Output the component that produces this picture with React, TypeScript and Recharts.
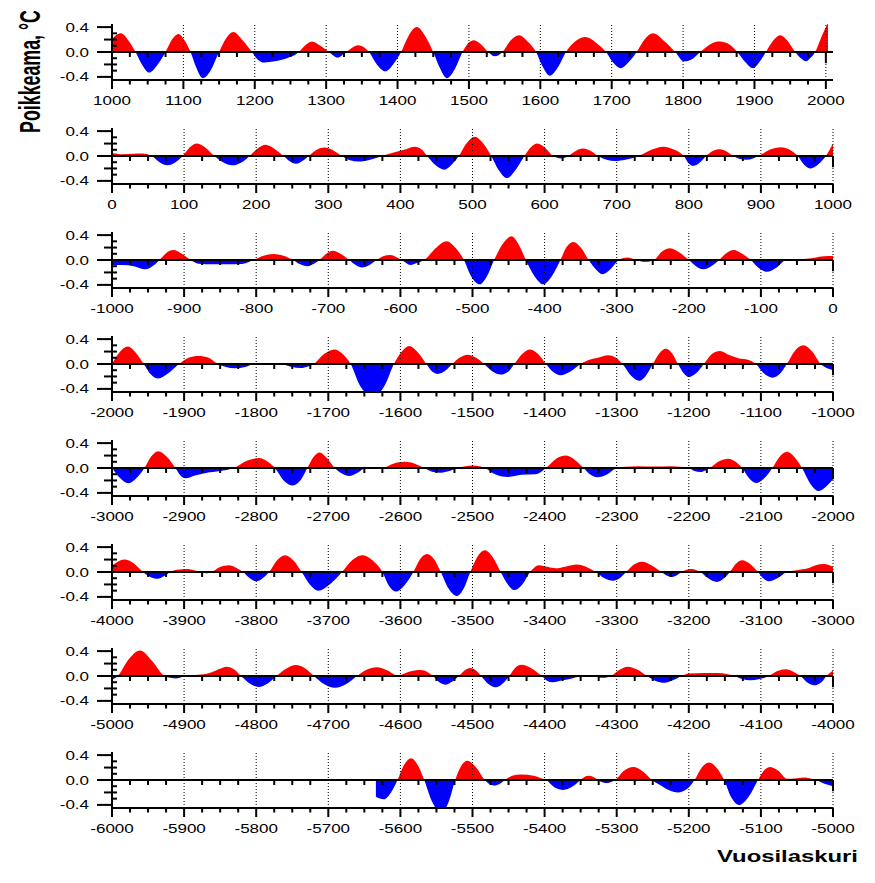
import React from "react";
import { AreaChart, Area, XAxis, YAxis, ReferenceLine } from "recharts";

type Pt = [number, number];

// anomaly (°C), [year, value], one list per 1000-year strip
const strip1000: Pt[] = [
  [1000, 0.21], [1012, 0.3], [1024, 0.17], [1033, 0], [1042, -0.2], [1052, -0.33], [1064, -0.2], [1075, 0],
  [1084, 0.2], [1093, 0.29], [1102, 0.18], [1110, 0], [1118, -0.25], [1127, -0.42], [1138, -0.3], [1150, 0],
  [1160, 0.22], [1170, 0.32], [1182, 0.2], [1196, 0], [1204, -0.12], [1213, -0.17], [1228, -0.15], [1245, -0.1],
  [1262, 0], [1270, 0.1], [1280, 0.17], [1292, 0.1], [1304, 0], [1316, -0.09], [1328, 0], [1345, 0.11],
  [1360, 0], [1371, -0.2], [1383, -0.31], [1395, -0.18], [1405, 0], [1415, 0.25], [1427, 0.4], [1439, 0.25],
  [1450, 0], [1459, -0.25], [1469, -0.42], [1480, -0.28], [1491, 0], [1498, 0.13], [1507, 0.19], [1517, 0.12],
  [1527, 0], [1536, -0.07], [1547, 0], [1558, 0.18], [1570, 0.27], [1583, 0.16], [1594, 0], [1603, -0.23],
  [1613, -0.38], [1625, -0.24], [1636, 0], [1650, 0.18], [1663, 0.24], [1678, 0.15], [1692, 0], [1702, -0.17],
  [1712, -0.26], [1724, -0.16], [1735, 0], [1746, 0.2], [1758, 0.3], [1773, 0.18], [1789, 0], [1801, -0.15],
  [1812, -0.12], [1824, 0], [1836, 0.11], [1850, 0.17], [1862, 0.14], [1876, 0], [1887, -0.16], [1898, -0.26],
  [1907, -0.16], [1916, 0], [1926, 0.18], [1936, 0.27], [1947, 0.17], [1957, 0], [1965, -0.1], [1972, -0.15],
  [1979, -0.09], [1985, 0], [1994, 0.25], [2003, 0.47],
];

const strip0: Pt[] = [
  [0, 0.05], [15, 0.03], [30, 0.035], [42, 0.04], [55, 0], [66, -0.1], [77, -0.15], [88, -0.1], [98, 0],
  [108, 0.14], [118, 0.2], [130, 0.13], [142, 0], [154, -0.1], [167, -0.15], [180, -0.1], [191, 0],
  [202, 0.12], [213, 0.18], [226, 0.11], [238, 0], [246, -0.08], [255, -0.125], [264, -0.08], [273, 0],
  [284, 0.1], [295, 0.135], [307, 0.09], [319, 0], [330, -0.07], [342, -0.09], [358, -0.06], [375, 0],
  [392, 0.06], [405, 0.1], [420, 0.15], [430, 0.1], [437, 0], [449, -0.15], [461, -0.22], [471, -0.14],
  [481, 0], [492, 0.21], [503, 0.31], [515, 0.2], [526, 0], [536, -0.22], [548, -0.355], [560, -0.22],
  [572, 0], [581, 0.14], [590, 0.2], [601, 0.13], [612, 0], [623, -0.04], [633, 0], [643, 0.08], [653, 0.12],
  [664, 0.08], [674, 0], [686, -0.06], [698, -0.08], [712, -0.06], [731, 0], [748, 0.1], [765, 0.15],
  [780, 0.1], [793, 0], [800, -0.12], [806, -0.16], [815, -0.11], [824, 0], [833, 0.08], [843, 0.11],
  [853, 0.07], [862, 0], [871, -0.05], [880, -0.06], [889, -0.04], [897, 0], [912, 0.1], [928, 0.14],
  [940, 0.1], [951, 0], [960, -0.14], [969, -0.2], [980, -0.13], [990, 0], [1000, 0.2],
];

const stripM1000: Pt[] = [
  [-1000, -0.08], [-985, -0.08], [-970, -0.1], [-954, -0.15], [-944, -0.1], [-934, 0], [-925, 0.11],
  [-915, 0.16], [-903, 0.1], [-891, 0], [-880, -0.06], [-860, -0.07], [-840, -0.07], [-820, -0.065],
  [-804, 0], [-790, 0.07], [-776, 0.095], [-762, 0.07], [-749, 0], [-739, -0.07], [-729, -0.1], [-720, -0.06],
  [-712, 0], [-703, 0.1], [-694, 0.15], [-683, 0.1], [-671, 0], [-662, -0.08], [-653, -0.12], [-643, -0.08],
  [-633, 0], [-624, 0.06], [-614, 0.08], [-606, 0.05], [-598, 0], [-586, -0.08], [-577, -0.05], [-567, 0],
  [-550, 0.2], [-536, 0.3], [-524, 0.2], [-512, 0], [-502, -0.26], [-490, -0.39], [-480, -0.26], [-470, 0],
  [-458, 0.26], [-446, 0.38], [-436, 0.25], [-426, 0], [-414, -0.26], [-402, -0.39], [-390, -0.26], [-378, 0],
  [-370, 0.2], [-360, 0.29], [-349, 0.19], [-339, 0], [-329, -0.15], [-320, -0.23], [-308, -0.14], [-297, 0],
  [-285, 0.04], [-273, 0], [-261, -0.03], [-248, 0], [-238, 0.13], [-226, 0.19], [-213, 0.12], [-200, 0],
  [-190, -0.1], [-180, -0.15], [-169, -0.1], [-158, 0], [-148, 0.11], [-138, 0.16], [-126, 0.1], [-114, 0],
  [-103, -0.13], [-92, -0.19], [-78, -0.12], [-65, 0], [-50, 0.01], [-30, 0.03], [-12, 0.06], [0, 0.065],
];

const stripM2000: Pt[] = [
  [-2000, 0], [-1990, 0.18], [-1978, 0.28], [-1967, 0.18], [-1956, 0], [-1946, -0.17], [-1936, -0.235],
  [-1922, -0.15], [-1907, 0], [-1894, 0.1], [-1880, 0.13], [-1866, 0.1], [-1853, 0], [-1842, -0.05],
  [-1830, -0.07], [-1815, -0.05], [-1803, 0], [-1785, 0.005], [-1765, 0], [-1752, -0.045], [-1738, -0.065],
  [-1728, -0.04], [-1720, 0], [-1706, 0.16], [-1692, 0.235], [-1680, 0.16], [-1669, 0], [-1656, -0.35],
  [-1638, -0.52], [-1622, -0.35], [-1609, 0], [-1598, 0.2], [-1588, 0.29], [-1576, 0.19], [-1564, 0],
  [-1556, -0.12], [-1548, -0.16], [-1538, -0.11], [-1528, 0], [-1518, 0.1], [-1507, 0.15], [-1495, 0.1],
  [-1484, 0], [-1472, -0.12], [-1461, -0.17], [-1450, -0.12], [-1442, 0], [-1431, 0.16], [-1421, 0.235],
  [-1409, 0.16], [-1398, 0], [-1388, -0.13], [-1378, -0.18], [-1364, -0.12], [-1350, 0], [-1340, 0.06],
  [-1326, 0.1], [-1312, 0.14], [-1301, 0.1], [-1292, 0], [-1280, -0.19], [-1269, -0.27], [-1259, -0.18],
  [-1250, 0], [-1241, 0.17], [-1232, 0.245], [-1223, 0.17], [-1215, 0], [-1207, -0.15], [-1200, -0.21],
  [-1190, -0.15], [-1179, 0], [-1168, 0.16], [-1157, 0.21], [-1143, 0.14], [-1130, 0.09], [-1118, 0.07],
  [-1107, 0], [-1096, -0.15], [-1084, -0.22], [-1073, -0.15], [-1064, 0], [-1053, 0.21], [-1041, 0.3],
  [-1029, 0.2], [-1017, 0], [-1008, -0.07], [-1000, -0.1],
];

const stripM3000: Pt[] = [
  [-3000, 0], [-2990, -0.15], [-2977, -0.245], [-2966, -0.16], [-2955, 0], [-2946, 0.18], [-2936, 0.27],
  [-2924, 0.18], [-2912, 0], [-2905, -0.12], [-2898, -0.165], [-2885, -0.12], [-2870, -0.08], [-2850, -0.05],
  [-2831, 0], [-2812, 0.12], [-2796, 0.16], [-2784, 0.1], [-2774, 0], [-2762, -0.2], [-2749, -0.28],
  [-2738, -0.19], [-2729, 0], [-2721, 0.17], [-2712, 0.25], [-2702, 0.16], [-2691, 0], [-2681, -0.09],
  [-2671, -0.13], [-2660, -0.08], [-2648, 0], [-2635, 0.01], [-2625, 0], [-2610, 0.07], [-2594, 0.1],
  [-2580, 0.07], [-2567, 0], [-2556, -0.06], [-2544, -0.075], [-2532, -0.05], [-2520, 0], [-2510, 0.03],
  [-2500, 0.04], [-2490, 0.03], [-2483, 0], [-2467, -0.11], [-2451, -0.145], [-2432, -0.11], [-2412, -0.1],
  [-2398, 0], [-2384, 0.15], [-2370, 0.2], [-2358, 0.13], [-2346, 0], [-2336, -0.11], [-2327, -0.15],
  [-2313, -0.1], [-2300, 0], [-2288, 0.02], [-2270, 0.03], [-2250, 0.025], [-2225, 0.03], [-2212, 0.02],
  [-2200, 0], [-2192, -0.05], [-2184, -0.065], [-2177, -0.04], [-2171, 0], [-2158, 0.11], [-2145, 0.15],
  [-2135, 0.1], [-2126, 0], [-2116, -0.17], [-2107, -0.24], [-2095, -0.16], [-2084, 0], [-2074, 0.18],
  [-2064, 0.26], [-2053, 0.17], [-2043, 0], [-2031, -0.26], [-2020, -0.37], [-2008, -0.28], [-2000, -0.18],
];

const stripM4000: Pt[] = [
  [-4000, 0.1], [-3983, 0.2], [-3970, 0.14], [-3957, 0], [-3947, -0.08], [-3937, -0.11], [-3928, -0.07],
  [-3919, 0], [-3907, 0.04], [-3896, 0.05], [-3886, 0.03], [-3876, 0], [-3869, -0.02], [-3862, 0],
  [-3850, 0.08], [-3838, 0.11], [-3828, 0.07], [-3818, 0], [-3809, -0.1], [-3800, -0.15], [-3791, -0.1],
  [-3782, 0], [-3771, 0.19], [-3760, 0.27], [-3748, 0.18], [-3737, 0], [-3725, -0.21], [-3714, -0.3],
  [-3698, -0.2], [-3681, 0], [-3667, 0.19], [-3652, 0.27], [-3638, 0.18], [-3625, 0], [-3616, -0.22],
  [-3606, -0.315], [-3594, -0.21], [-3582, 0], [-3573, 0.2], [-3563, 0.29], [-3553, 0.2], [-3544, 0],
  [-3533, -0.27], [-3522, -0.385], [-3512, -0.26], [-3503, 0], [-3493, 0.25], [-3483, 0.35], [-3472, 0.24],
  [-3461, 0], [-3451, -0.2], [-3442, -0.29], [-3431, -0.2], [-3420, 0], [-3408, 0.11], [-3395, 0.08],
  [-3385, 0.06], [-3370, 0.09], [-3355, 0.12], [-3342, 0.08], [-3329, 0], [-3317, -0.1], [-3305, -0.14],
  [-3296, -0.1], [-3287, 0], [-3276, 0.12], [-3265, 0.165], [-3252, 0.11], [-3238, 0], [-3230, -0.06],
  [-3223, -0.08], [-3216, -0.05], [-3210, 0], [-3196, 0.05], [-3184, 0], [-3172, -0.11], [-3161, -0.16],
  [-3152, -0.11], [-3143, 0], [-3135, 0.13], [-3126, 0.19], [-3115, 0.13], [-3104, 0], [-3096, -0.11],
  [-3089, -0.15], [-3077, -0.1], [-3064, 0], [-3050, 0.03], [-3035, 0.06], [-3024, 0.11], [-3013, 0.13],
  [-3005, 0.11], [-3000, 0.08],
];

const stripM5000: Pt[] = [
  [-5000, -0.06], [-4992, 0], [-4978, 0.25], [-4961, 0.41], [-4945, 0.25], [-4927, 0], [-4919, -0.03],
  [-4911, -0.04], [-4904, -0.02], [-4899, 0], [-4880, 0.02], [-4865, 0.05], [-4852, 0.11], [-4841, 0.15],
  [-4830, 0.1], [-4821, 0], [-4809, -0.12], [-4797, -0.175], [-4784, -0.12], [-4772, 0], [-4758, 0.12],
  [-4745, 0.175], [-4732, 0.12], [-4720, 0], [-4706, -0.13], [-4691, -0.19], [-4675, -0.13], [-4660, 0],
  [-4647, 0.1], [-4633, 0.14], [-4618, 0.09], [-4604, 0.01], [-4588, 0.07], [-4572, 0.095], [-4562, 0.06],
  [-4555, 0], [-4546, -0.1], [-4537, -0.14], [-4528, -0.09], [-4519, 0], [-4511, 0.09], [-4503, 0.13],
  [-4495, 0.09], [-4488, 0], [-4478, -0.13], [-4468, -0.18], [-4458, -0.12], [-4449, 0], [-4441, 0.13],
  [-4432, 0.18], [-4418, 0.12], [-4404, 0], [-4396, -0.08], [-4389, -0.1], [-4375, -0.07], [-4362, -0.04],
  [-4350, 0], [-4341, 0.01], [-4332, 0], [-4320, -0.03], [-4308, 0], [-4296, 0.1], [-4285, 0.15],
  [-4271, 0.1], [-4258, 0], [-4246, -0.08], [-4234, -0.11], [-4222, -0.07], [-4210, 0], [-4200, 0.04],
  [-4180, 0.05], [-4160, 0.05], [-4146, 0.03], [-4137, 0], [-4126, -0.05], [-4115, -0.07], [-4102, -0.05],
  [-4089, 0], [-4077, 0.08], [-4066, 0.11], [-4055, 0.07], [-4045, 0], [-4035, -0.11], [-4026, -0.15],
  [-4016, -0.1], [-4009, 0], [-4000, 0.09],
];

const stripM6000: Pt[] = [
  [-5634, -0.27], [-5623, -0.31], [-5613, -0.2], [-5604, 0], [-5595, 0.24], [-5585, 0.35], [-5576, 0.24],
  [-5567, 0], [-5556, -0.35], [-5544, -0.52], [-5533, -0.35], [-5524, 0], [-5516, 0.22], [-5507, 0.31],
  [-5495, 0.2], [-5483, 0], [-5476, -0.07], [-5470, -0.09], [-5462, -0.06], [-5455, 0], [-5445, 0.07],
  [-5433, 0.09], [-5415, 0.07], [-5405, 0.03], [-5398, 0], [-5386, -0.12], [-5374, -0.16], [-5362, -0.11],
  [-5350, 0], [-5345, 0.05], [-5339, 0.07], [-5332, 0.05], [-5326, 0], [-5319, -0.04], [-5313, -0.05],
  [-5307, -0.03], [-5302, 0], [-5290, 0.15], [-5277, 0.21], [-5264, 0.14], [-5251, 0], [-5240, -0.08],
  [-5228, -0.16], [-5215, -0.2], [-5203, -0.15], [-5192, 0], [-5182, 0.2], [-5172, 0.28], [-5161, 0.19],
  [-5151, 0], [-5141, -0.28], [-5130, -0.4], [-5117, -0.27], [-5104, 0], [-5096, 0.15], [-5087, 0.21],
  [-5075, 0.14], [-5064, 0.02], [-5050, 0.03], [-5040, 0.04], [-5030, 0.02], [-5024, 0], [-5012, -0.06],
  [-5000, -0.1],
];

const stripData = [strip1000, strip0, stripM1000, stripM2000, stripM3000, stripM4000, stripM5000, stripM6000];
const stripStart = [1000, 0, -1000, -2000, -3000, -4000, -5000, -6000];
const stripLastTick = [2000, 1000, 0, -1000, -2000, -3000, -4000, -5000];
// the top strip's axis runs a little past 2000
const stripDomainEnd = [2010, 1000, 0, -1000, -2000, -3000, -4000, -5000];

const yTicks = [-0.4, -0.3, -0.2, -0.1, 0, 0.1, 0.2, 0.3, 0.4];
const yLabelTicks = [-0.4, 0, 0.4];

const RED = "#ff0000";
const BLUE = "#0000ff";
const FONT = "'Liberation Sans', Arial, Helvetica, sans-serif";
const STRETCH = 1.36;

function YTick({ x, y, payload }: any) {
  const v = payload.value as number;
  const labelled = yLabelTicks.some((t) => Math.abs(t - v) < 1e-6);
  const mid = Math.abs(Math.abs(v) - 0.2) < 1e-6;
  if (labelled) {
    return (
      <g>
        <line x1={x - 15} x2={x} y1={y} y2={y} stroke="#000" strokeWidth={2} />
        <text
          transform={`translate(${x - 23} ${y + 4.5}) scale(${STRETCH} 1)`}
          textAnchor="end"
          fontFamily={FONT}
          fontSize={12.5}
          fill="#000"
        >
          {v.toFixed(1)}
        </text>
      </g>
    );
  }
  return (
    <line x1={mid ? x - 8 : x} x2={x + 5} y1={y} y2={y} stroke="#000" strokeWidth={2} />
  );
}

function XTick({ x, y, payload, from }: any) {
  const v = payload.value as number;
  const major = (v - from) % 100 === 0;
  return (
    <g>
      <line x1={x} x2={x} y1={y} y2={y + (major ? 9 : 4.5)} stroke="#000" strokeWidth={2} />
      {major && (
        <text
          transform={`translate(${x} ${y + 25}) scale(${STRETCH} 1)`}
          textAnchor="middle"
          fontFamily={FONT}
          fontSize={12.5}
          fill="#000"
        >
          {v}
        </text>
      )}
    </g>
  );
}

function Strip({ idx }: { idx: number }) {
  const data = stripData[idx];
  const from = stripStart[idx];
  const last = stripLastTick[idx];
  const rows = data.map(([year, v]) => ({ year, v }));
  const vals = data.map((d) => d[1]);
  const hi = Math.max(0, ...vals);
  const lo = Math.min(0, ...vals);
  const split = hi / (hi - lo);

  const quarter: number[] = [];
  for (let t = from; t <= last; t += 25) quarter.push(t);
  const hundreds = quarter.filter((t) => t !== from && (t - from) % 100 === 0);
  const zeroTicks = quarter.filter((t) => (t - from) % 100 !== 0);
  const gid = `fill-${idx}`;

  return (
    <div style={{ position: "absolute", left: 0, top: idx * 104 }}>
      <AreaChart width={875} height={112} data={rows} margin={{ top: 24, right: 42, left: 0, bottom: 0 }}>
        <defs>
          <linearGradient id={gid} x1="0" y1="0" x2="0" y2="1">
            <stop offset={split} stopColor={RED} />
            <stop offset={split} stopColor={BLUE} />
          </linearGradient>
        </defs>
        <XAxis
          type="number"
          dataKey="year"
          domain={[from, stripDomainEnd[idx]]}
          allowDataOverflow
          ticks={quarter}
          interval={0}
          tickLine={false}
          tickSize={0}
          tickMargin={0}
          height={32}
          axisLine={{ stroke: "#000", strokeWidth: 2 }}
          tick={(p: any) => <XTick {...p} from={from} />}
        />
        <YAxis
          type="number"
          domain={[-0.45, 0.45]}
          allowDataOverflow
          ticks={yTicks}
          interval={0}
          width={112}
          tickLine={false}
          tickSize={0}
          tickMargin={0}
          axisLine={{ stroke: "#000", strokeWidth: 2 }}
          tick={(p: any) => <YTick {...p} />}
        />
        {hundreds.map((t) => (
          <ReferenceLine key={`g${t}`} x={t} stroke="#000" strokeWidth={1} strokeDasharray="1 2" />
        ))}
        <Area
          type="monotone"
          dataKey="v"
          baseValue={0}
          stroke="none"
          fill={`url(#${gid})`}
          fillOpacity={1}
          isAnimationActive={false}
        />
        <ReferenceLine y={0} stroke="#000" strokeWidth={2} />
        {zeroTicks.map((t) => (
          <ReferenceLine
            key={`z${t}`}
            segment={[{ x: t, y: 0 }, { x: t, y: -0.08 }]}
            stroke="#000"
            strokeWidth={2}
          />
        ))}
        <ReferenceLine
          segment={[{ x: last, y: 0 }, { x: last, y: -0.18 }]}
          stroke="#000"
          strokeWidth={2}
        />
      </AreaChart>
    </div>
  );
}

export default function App() {
  return (
    <div style={{ position: "absolute", left: 0, top: 0, width: 875, height: 883, background: "#fff" }}>
      {stripData.map((_, i) => (
        <Strip key={i} idx={i} />
      ))}
      <svg
        width={875}
        height={883}
        style={{ position: "absolute", left: 0, top: 0, pointerEvents: "none" }}
      >
        <text
          transform="translate(40 71.5) scale(1.38 0.82) rotate(-90)"
          textAnchor="middle"
          fontFamily={FONT}
          fontWeight="bold"
          fontSize={21.7}
          fill="#000"
        >
          Poikkeama, °C
        </text>
        <text
          transform="translate(858 862) scale(1.38 1)"
          textAnchor="end"
          fontFamily={FONT}
          fontWeight="bold"
          fontSize={17.3}
          fill="#000"
        >
          Vuosilaskuri
        </text>
      </svg>
    </div>
  );
}
